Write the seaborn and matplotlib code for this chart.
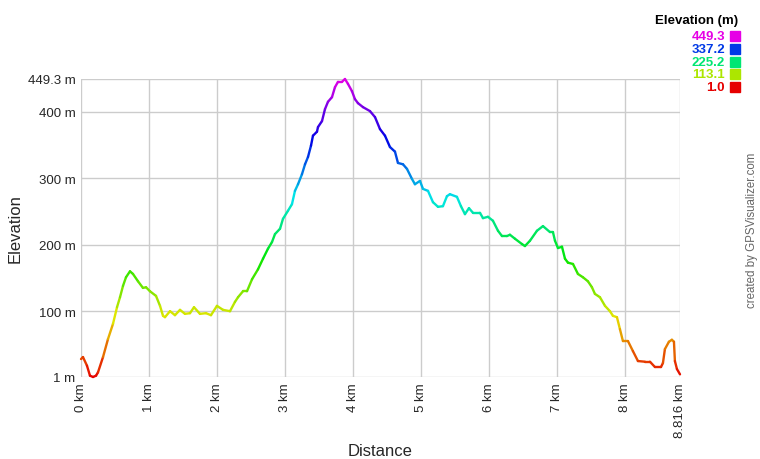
import numpy as np
import matplotlib
matplotlib.use("Agg")
import matplotlib.pyplot as plt
import matplotlib.colors as mcolors
from matplotlib.collections import LineCollection
import seaborn as sns

# distance along the track (km) and elevation (m)
dist_km = [0.000, 0.029, 0.088, 0.132, 0.177, 0.221, 0.250, 0.324, 0.397, 0.471,
           0.530, 0.574, 0.618, 0.662, 0.721, 0.765, 0.839, 0.912, 0.957, 1.015,
           1.104, 1.163, 1.207, 1.236, 1.310, 1.383, 1.457, 1.530, 1.604, 1.663,
           1.751, 1.840, 1.913, 2.001, 2.090, 2.193, 2.266, 2.311, 2.384, 2.443,
           2.517, 2.605, 2.679, 2.752, 2.811, 2.855, 2.929, 2.973, 3.046, 3.105,
           3.149, 3.194, 3.252, 3.297, 3.341, 3.385, 3.414, 3.473, 3.488, 3.547,
           3.591, 3.635, 3.694, 3.738, 3.782, 3.841, 3.885, 3.929, 3.988, 4.032,
           4.076, 4.150, 4.253, 4.327, 4.400, 4.474, 4.547, 4.621, 4.665, 4.739,
           4.798, 4.871, 4.915, 4.989, 5.033, 5.107, 5.180, 5.254, 5.327, 5.386,
           5.430, 5.533, 5.592, 5.651, 5.710, 5.769, 5.872, 5.916, 5.990, 6.063,
           6.137, 6.196, 6.269, 6.313, 6.387, 6.490, 6.534, 6.608, 6.711, 6.799,
           6.902, 6.946, 6.976, 7.020, 7.079, 7.123, 7.167, 7.241, 7.314, 7.388,
           7.461, 7.520, 7.564, 7.638, 7.712, 7.785, 7.829, 7.888, 7.932, 7.976,
           8.050, 8.123, 8.197, 8.300, 8.374, 8.447, 8.536, 8.565, 8.594, 8.653,
           8.697, 8.727, 8.741, 8.771, 8.816]
elev_m = [28, 31, 18, 3, 1, 3, 8, 31, 58, 81,
          106, 121, 138, 151, 160, 156, 145, 135, 136, 130,
          123, 108, 93, 91, 100, 94, 102, 96, 97, 106,
          96, 97, 94, 108, 102, 100, 114, 121, 130, 130,
          148, 163, 179, 194, 204, 216, 224, 239, 251, 261,
          281, 291, 306, 321, 332, 349, 364, 370, 377, 386,
          404, 415, 422, 437, 445, 445, 449.3, 442, 431, 419,
          413, 407, 401, 392, 374, 364, 347, 340, 323, 321,
          314, 299, 291, 296, 284, 281, 264, 257, 258, 273,
          276, 272, 258, 246, 255, 248, 248, 240, 242, 236,
          221, 213, 213, 215, 209, 201, 198, 206, 221, 228,
          219, 219, 206, 195, 197, 179, 173, 171, 156, 151,
          145, 136, 126, 121, 108, 100, 93, 91, 73, 55,
          55, 40, 25, 24, 24, 16, 16, 22, 43, 54,
          57, 54, 25, 13, 5]

x_ticks = [0, 1, 2, 3, 4, 5, 6, 7, 8, 8.816]
x_labels = ["0 km", "1 km", "2 km", "3 km", "4 km", "5 km", "6 km", "7 km", "8 km", "8.816 km"]
y_ticks = [1, 100, 200, 300, 400, 449.3]
y_labels = ["1 m", "100 m", "200 m", "300 m", "400 m", "449.3 m"]
legend_vals = [449.3, 337.2, 225.2, 113.1, 1.0]

e_min, e_max = 1.0, 449.3


def elev_color(v):
    # hue runs red -> magenta over the elevation range
    h = (v - e_min) / (e_max - e_min) * 300.0 / 360.0
    return mcolors.hsv_to_rgb([h, 1.0, 0.9])


sns.set_style("white")
plt.rcParams['font.family'] = ['Liberation Sans', 'DejaVu Sans']

fig = plt.figure(figsize=(7.6, 4.6), dpi=100)
ax = fig.add_axes([81 / 760, 1 - 378 / 460, (680 - 81) / 760, (378 - 80) / 460])

x = np.array(dist_km)
y = np.array(elev_m)
pts = np.column_stack([x, y]).reshape(-1, 1, 2)
segs = np.concatenate([pts[:-1], pts[1:]], axis=1)
cols = [elev_color((a + b) / 2) for a, b in zip(y[:-1], y[1:])]
lc = LineCollection(segs, colors=cols, linewidths=1.7, capstyle="round", joinstyle="round", zorder=3)
lc.set_clip_on(False)
ax.add_collection(lc)

ax.set_xlim(0, 8.816)
ax.set_ylim(e_min, e_max)
ax.set_xticks(x_ticks)
ax.set_xticklabels(x_labels, rotation=90, fontsize=9.5)
ax.set_yticks(y_ticks)
ax.set_yticklabels(y_labels, fontsize=9.5)
ax.tick_params(length=0, pad=4)
ax.grid(True, color="#cccccc", linewidth=1)
for s in ax.spines.values():
    s.set_visible(False)

ax.set_xlabel("Distance", fontsize=12)
ax.set_ylabel("Elevation", fontsize=12)
ax.xaxis.set_label_coords(0.5, -0.22)
ax.yaxis.set_label_coords(-0.098, 0.5)

# legend on the right
fig.text(738 / 760, 1 - 21 / 460, "Elevation (m)", ha="right", va="center",
         fontsize=9.5, fontweight="bold", color="black")
for i, v in enumerate(legend_vals):
    yc = 37 + i * 12.8
    c = elev_color(v)
    fig.text(725 / 760, 1 - yc / 460, "{:.1f}".format(v), ha="right", va="center",
             fontsize=9.5, fontweight="bold", color=c)
    fig.patches.append(plt.Rectangle((730 / 760, 1 - (yc + 5) / 460), 10 / 760, 10 / 460,
                                     transform=fig.transFigure, color=c, figure=fig))

fig.text(752 / 760, 1 - 230 / 460, "created by GPSVisualizer.com", rotation=90,
         ha="center", va="center", fontsize=8.3, color="#666666")

plt.savefig("out.png", dpi=100)
